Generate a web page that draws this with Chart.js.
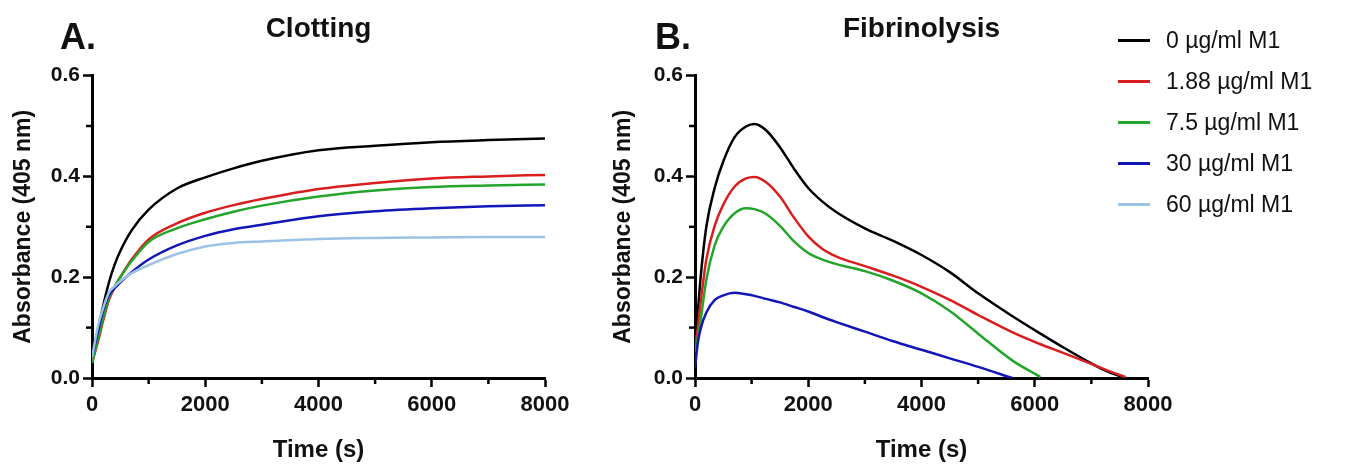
<!DOCTYPE html>
<html>
<head>
<meta charset="utf-8">
<script src="https://cdn.jsdelivr.net/npm/chart.js@4"></script>
<style>
  body { margin: 0; background: #fff; font-family: 'Liberation Sans', Arial, sans-serif; }
  #wrap { position: relative; width: 1348px; height: 472px; overflow: hidden; }
  canvas { position: absolute; top: 0; }
  .panel { position: absolute; top: 16px; font-weight: bold; font-size: 36px; color: #111; }
  #legend { position: absolute; left: 1118px; top: 20px; color: #111; }
  .item { display: flex; align-items: center; height: 41px; font-size: 23px; }
  .swatch { display: inline-block; width: 32px; height: 3px; margin-right: 16px; }
</style>
</head>
<body>
<div id="wrap">
  <canvas id="clot" width="600" height="472" style="left:0"></canvas>
  <canvas id="fib" width="600" height="472" style="left:600px"></canvas>
  <div class="panel" style="left:60px">A.</div>
  <div class="panel" style="left:655px">B.</div>
  <div id="legend"></div>
</div>
<script>
// series names + colours
var names = ['0 µg/ml M1', '1.88 µg/ml M1', '7.5 µg/ml M1', '30 µg/ml M1', '60 µg/ml M1'];
var colors = ['#000000', '#d81e1e', '#22a52a', '#1216b8', '#9cc2e8'];

// A. clotting, time (s)
var clotTime = [0, 100, 200, 300, 400, 500, 700, 1000, 1500, 2000, 2500, 3000, 4000, 5000, 6000, 7000, 8000];
var clot0   = [0.03, 0.09, 0.145, 0.19, 0.225, 0.252, 0.293, 0.334, 0.376, 0.398, 0.416, 0.431, 0.452, 0.461, 0.468, 0.472, 0.475];
var clot188 = [0.03, 0.07, 0.115, 0.155, 0.18, 0.2, 0.235, 0.275, 0.307, 0.328, 0.343, 0.355, 0.375, 0.387, 0.396, 0.4, 0.403];
var clot75  = [0.03, 0.075, 0.12, 0.16, 0.182, 0.2, 0.232, 0.27, 0.297, 0.315, 0.33, 0.342, 0.36, 0.372, 0.379, 0.382, 0.384];
var clot30  = [0.04, 0.09, 0.135, 0.165, 0.178, 0.19, 0.21, 0.235, 0.263, 0.282, 0.295, 0.304, 0.321, 0.331, 0.337, 0.341, 0.343];
var clot60  = [0.04, 0.1, 0.14, 0.17, 0.182, 0.192, 0.208, 0.224, 0.246, 0.261, 0.268, 0.271, 0.276, 0.278, 0.279, 0.28, 0.28];

// B. fibrinolysis, time (s)
var fibTime = [0, 50, 100, 200, 350, 500, 700, 900, 1050, 1250, 1500, 1750, 2000, 2250, 2500, 3000, 3500, 4000, 4500, 5000, 5600, 6100, 6500, 7000, 7300, 7600];
var fib0   = [0.05, 0.13, 0.2, 0.3, 0.378, 0.43, 0.478, 0.499, 0.504, 0.492, 0.458, 0.415, 0.377, 0.35, 0.329, 0.297, 0.272, 0.244, 0.21, 0.168, 0.123, 0.088, 0.061, 0.029, 0.012, 0];
var fib188 = [0.06, 0.1, 0.15, 0.235, 0.303, 0.344, 0.38, 0.396, 0.399, 0.389, 0.36, 0.318, 0.281, 0.256, 0.241, 0.222, 0.203, 0.181, 0.155, 0.125, 0.091, 0.067, 0.05, 0.028, 0.014, 0.002];
var fib75  = [0.05, 0.08, 0.115, 0.195, 0.264, 0.3, 0.327, 0.337, 0.335, 0.326, 0.302, 0.271, 0.248, 0.235, 0.226, 0.212, 0.193, 0.168, 0.133, 0.088, 0.035, 0.002, null, null, null, null];
var fib30  = [0.02, 0.07, 0.098, 0.13, 0.155, 0.164, 0.169, 0.166, 0.163, 0.157, 0.15, 0.141, 0.132, 0.121, 0.111, 0.092, 0.073, 0.056, 0.039, 0.022, 0, null, null, null, null, null];
var fib60  = [];

var xTicks = [0, 2000, 4000, 6000, 8000];
var yTicks = [0.0, 0.2, 0.4, 0.6];

Chart.defaults.font.family = "'Liberation Sans', Arial, sans-serif";
Chart.defaults.color = '#111';

// short ticks for the unlabeled (minor) steps
var minorTicks = {
  id: 'minorTicks',
  afterDraw: function(chart) {
    var c = chart.ctx, a = chart.chartArea;
    var xs = chart.scales.x, ys = chart.scales.y;
    c.save();
    c.strokeStyle = '#000';
    c.lineWidth = 2.5;
    xs.ticks.forEach(function(t) {
      if (xTicks.indexOf(t.value) >= 0) return;
      var px = xs.getPixelForValue(t.value);
      c.beginPath(); c.moveTo(px, a.bottom); c.lineTo(px, a.bottom + 6); c.stroke();
    });
    ys.ticks.forEach(function(t) {
      if (yTicks.some(function(v) { return Math.abs(v - t.value) < 1e-6; })) return;
      var py = ys.getPixelForValue(t.value);
      c.beginPath(); c.moveTo(a.left, py); c.lineTo(a.left - 6, py); c.stroke();
    });
    c.restore();
  }
};

function makeChart(id, title, times, series, yWidth) {
  var datasets = series.map(function(vals, i) {
    return {
      label: names[i],
      data: vals.map(function(v, j) { return {x: times[j], y: v}; }),
      borderColor: colors[i],
      borderWidth: 2.5,
      pointRadius: 0,
      cubicInterpolationMode: 'monotone',
      fill: false
    };
  }).reverse();
  var isMajorX = function(v) { return xTicks.indexOf(v) >= 0; };
  var isMajorY = function(v) { return yTicks.some(function(t) { return Math.abs(t - v) < 1e-6; }); };
  return new Chart(document.getElementById(id), {
    type: 'line',
    data: { datasets: datasets },
    plugins: [minorTicks],
    options: {
      responsive: false,
      animation: false,
      layout: { padding: { left: 0, right: 600 - 453 - yWidth, top: 0, bottom: 0 } },
      plugins: {
        legend: { display: false },
        tooltip: { enabled: false },
        title: {
          display: true,
          text: title,
          fullSize: false,
          font: { size: 28, weight: 'bold', lineHeight: 1.2 },
          padding: { top: 12, bottom: 30 }
        }
      },
      scales: {
        x: {
          type: 'linear',
          min: 0, max: 8000,
          afterFit: function(s) { s.height = 94; },
          border: { color: '#000', width: 3 },
          grid: {
            drawOnChartArea: false,
            tickLength: 9,
            tickWidth: 2.5,
            tickColor: function(ctx) { return isMajorX(ctx.tick.value) ? '#000' : 'rgba(0,0,0,0)'; }
          },
          ticks: {
            stepSize: 1000,
            maxRotation: 0,
            autoSkip: false,
            padding: 5,
            font: { size: 22, weight: 'bold' },
            callback: function(v) { return isMajorX(v) ? String(v) : ''; }
          },
          title: {
            display: true,
            text: 'Time (s)',
            font: { size: 24, weight: 'bold', lineHeight: 1.2 },
            padding: { top: 0, bottom: 7 }
          }
        },
        y: {
          min: 0, max: 0.6,
          afterFit: function(s) { s.width = yWidth; },
          border: { color: '#000', width: 3 },
          grid: {
            drawOnChartArea: false,
            tickLength: 9,
            tickWidth: 2.5,
            tickColor: function(ctx) { return isMajorY(ctx.tick.value) ? '#000' : 'rgba(0,0,0,0)'; }
          },
          ticks: {
            stepSize: 0.1,
            autoSkip: false,
            padding: 3,
            font: { size: 21, weight: 'bold' },
            callback: function(v) { return isMajorY(v) ? v.toFixed(1) : ''; }
          },
          title: {
            display: true,
            text: 'Absorbance (405 nm)',
            font: { size: 23, weight: 'bold', lineHeight: 1.2 },
            padding: { top: 10, bottom: 0 }
          }
        }
      }
    }
  });
}

makeChart('clot', 'Clotting', clotTime, [clot0, clot188, clot75, clot30, clot60], 92);
makeChart('fib', 'Fibrinolysis', fibTime, [fib0, fib188, fib75, fib30, fib60], 95);

// legend on the right
var legend = document.getElementById('legend');
names.forEach(function(n, i) {
  var row = document.createElement('div');
  row.className = 'item';
  var sw = document.createElement('span');
  sw.className = 'swatch';
  sw.style.background = colors[i];
  row.appendChild(sw);
  row.appendChild(document.createTextNode(n));
  legend.appendChild(row);
});
</script>
</body>
</html>
